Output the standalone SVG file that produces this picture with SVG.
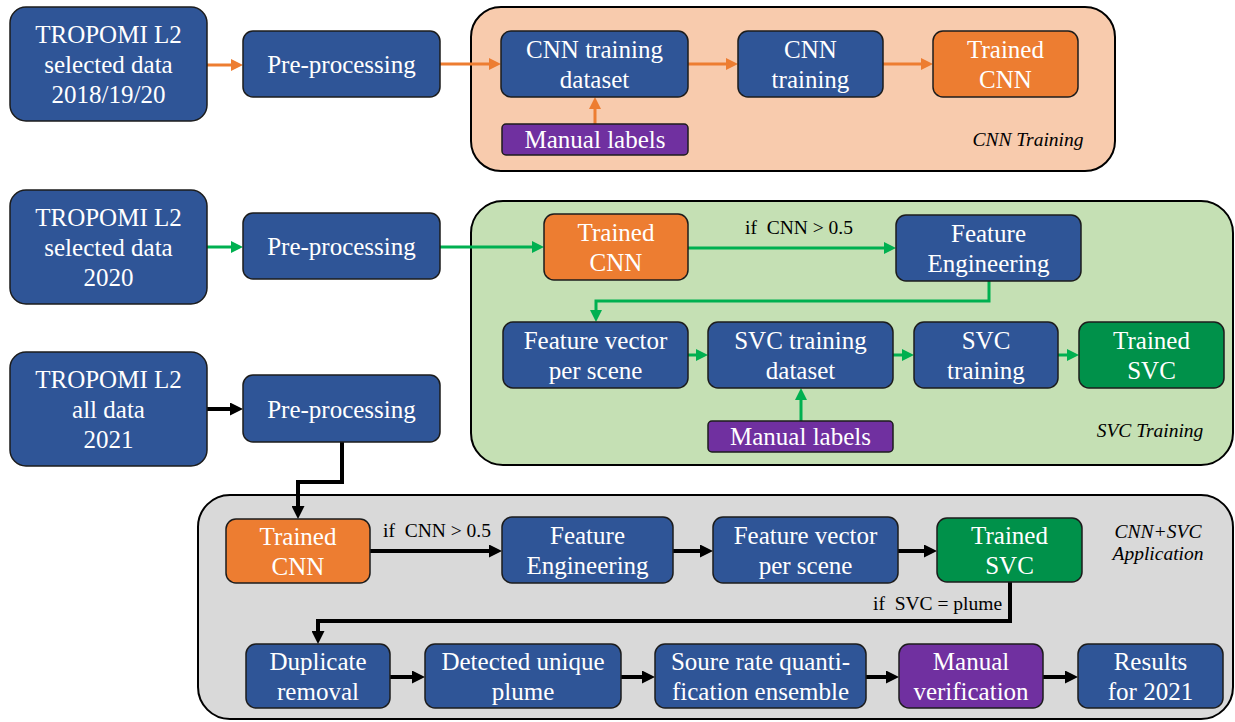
<svg xmlns="http://www.w3.org/2000/svg" width="1235" height="722" viewBox="0 0 1235 722">
<style>
.n{stroke:#1c1c1c;stroke-width:1.5}
.blue{fill:#2F5597}.org{fill:#ED7D31}.pur{fill:#7030A0}.grn{fill:#00914A}
text{font-family:'Liberation Serif','DejaVu Serif',serif}
.t{font-size:25px;fill:#fff;text-anchor:middle}
.lab{font-size:19.5px;fill:#000;white-space:pre}
.it{font-size:19.5px;font-style:italic;fill:#000;text-anchor:middle}
.c{fill:none;stroke-width:3}
.co{stroke:#ED7D31;marker-end:url(#ao)}
.cg{stroke:#00B050;marker-end:url(#ag)}
.cb{stroke:#000;stroke-width:4;marker-end:url(#ab)}
</style>
<defs>
<marker id="ao" markerUnits="userSpaceOnUse" markerWidth="12" markerHeight="12" refX="0" refY="6" orient="auto"><path d="M0,0 L12,6 L0,12 z" fill="#ED7D31"/></marker>
<marker id="ag" markerUnits="userSpaceOnUse" markerWidth="12" markerHeight="12" refX="0" refY="6" orient="auto"><path d="M0,0 L12,6 L0,12 z" fill="#00B050"/></marker>
<marker id="ab" markerUnits="userSpaceOnUse" markerWidth="13" markerHeight="13" refX="0" refY="6.5" orient="auto"><path d="M0,0 L13,6.5 L0,13 z" fill="#000"/></marker>
</defs>

<g id="containers">
<rect id="cnn-training" x="471" y="7" width="644" height="164" rx="30" fill="#F8CBAD" stroke="#000" stroke-width="2"/>
<text class="it" x="1028" y="146">CNN Training</text>
<rect id="svc-training" x="471" y="201" width="762" height="264" rx="32" fill="#C5E0B4" stroke="#000" stroke-width="2"/>
<text class="it" x="1150" y="437">SVC Training</text>
<rect id="application" x="198" y="495" width="1035" height="224" rx="32" fill="#D9D9D9" stroke="#000" stroke-width="2"/>
<text class="it" x="1158" y="538">CNN+SVC</text>
<text class="it" x="1158" y="560">Application</text>
</g>

<g id="connectors">
<path class="c co" d="M207,65 H231"/>
<path class="c co" d="M440,64 H489"/>
<path class="c co" d="M688,64 H726"/>
<path class="c co" d="M883,64 H921"/>
<path class="c co" d="M595,124 V109"/>
<path class="c cg" d="M207,247 H231"/>
<path class="c cg" d="M440,247 H532"/>
<path class="c cg" d="M688,248 H884"/>
<path class="c cg" d="M989,281 V301 H596 V310"/>
<path class="c cg" d="M688,355 H696"/>
<path class="c cg" d="M893,355 H902"/>
<path class="c cg" d="M1058,355 H1067"/>
<path class="c cg" d="M801,421 V400"/>
<path class="c cb" d="M207,409 H230"/>
<path class="c cb" d="M342,442 V482 H298 V506"/>
<path class="c cb" d="M370,551 H489"/>
<path class="c cb" d="M673,551 H700"/>
<path class="c cb" d="M898,551 H924"/>
<path class="c cb" d="M1010,582 V621 H318 V631"/>
<path class="c cb" d="M390,677 H412"/>
<path class="c cb" d="M621,677 H642"/>
<path class="c cb" d="M866,677 H886"/>
<path class="c cb" d="M1043,677 H1065"/>
<text class="lab" x="745" y="234">if  CNN &gt; 0.5</text>
<text class="lab" x="383" y="537">if  CNN &gt; 0.5</text>
<text class="lab" x="873" y="610">if  SVC = plume</text>
</g>

<g id="n-tropomi1"><rect class="n blue" x="10" y="7" width="197" height="114" rx="16"/>
<text class="t" x="108.5" y="43">TROPOMI L2</text><text class="t" x="108.5" y="73">selected data</text><text class="t" x="108.5" y="103">2018/19/20</text></g>
<g id="n-pre1"><rect class="n blue" x="243" y="31" width="197" height="66" rx="10"/>
<text class="t" x="341.5" y="73">Pre-processing</text></g>
<g id="n-cnn-dataset"><rect class="n blue" x="501" y="31" width="187" height="66" rx="10"/>
<text class="t" x="594.5" y="58">CNN training</text><text class="t" x="594.5" y="88">dataset</text></g>
<g id="n-cnn-train"><rect class="n blue" x="738" y="31" width="145" height="66" rx="10"/>
<text class="t" x="810.5" y="58">CNN</text><text class="t" x="810.5" y="88">training</text></g>
<g id="n-trained-cnn1"><rect class="n org" x="933" y="31" width="145" height="66" rx="10"/>
<text class="t" x="1005.5" y="58">Trained</text><text class="t" x="1005.5" y="88">CNN</text></g>
<g id="n-manual1"><rect class="n pur" x="502" y="124" width="186" height="31" rx="4"/>
<text class="t" x="595" y="148">Manual labels</text></g>

<g id="n-tropomi2"><rect class="n blue" x="10" y="190" width="197" height="114" rx="16"/>
<text class="t" x="108.5" y="226">TROPOMI L2</text><text class="t" x="108.5" y="256">selected data</text><text class="t" x="108.5" y="286">2020</text></g>
<g id="n-pre2"><rect class="n blue" x="243" y="213" width="197" height="66" rx="10"/>
<text class="t" x="341.5" y="255">Pre-processing</text></g>
<g id="n-trained-cnn2"><rect class="n org" x="544" y="214" width="144" height="66" rx="10"/>
<text class="t" x="616" y="241">Trained</text><text class="t" x="616" y="271">CNN</text></g>
<g id="n-fe1"><rect class="n blue" x="896" y="215" width="185" height="66" rx="10"/>
<text class="t" x="988.5" y="242">Feature</text><text class="t" x="988.5" y="272">Engineering</text></g>
<g id="n-fv1"><rect class="n blue" x="503" y="322" width="185" height="66" rx="10"/>
<text class="t" x="595.5" y="349">Feature vector</text><text class="t" x="595.5" y="379">per scene</text></g>
<g id="n-svc-dataset"><rect class="n blue" x="708" y="322" width="185" height="66" rx="10"/>
<text class="t" x="800.5" y="349">SVC training</text><text class="t" x="800.5" y="379">dataset</text></g>
<g id="n-svc-train"><rect class="n blue" x="914" y="322" width="144" height="66" rx="10"/>
<text class="t" x="986" y="349">SVC</text><text class="t" x="986" y="379">training</text></g>
<g id="n-trained-svc1"><rect class="n grn" x="1079" y="322" width="145" height="66" rx="10"/>
<text class="t" x="1151.5" y="349">Trained</text><text class="t" x="1151.5" y="379">SVC</text></g>
<g id="n-manual2"><rect class="n pur" x="708" y="421" width="185" height="31" rx="4"/>
<text class="t" x="800.5" y="445">Manual labels</text></g>

<g id="n-tropomi3"><rect class="n blue" x="10" y="352" width="197" height="114" rx="16"/>
<text class="t" x="108.5" y="388">TROPOMI L2</text><text class="t" x="108.5" y="418">all data</text><text class="t" x="108.5" y="448">2021</text></g>
<g id="n-pre3"><rect class="n blue" x="243" y="375" width="197" height="67" rx="10"/>
<text class="t" x="341.5" y="418">Pre-processing</text></g>
<g id="n-trained-cnn3"><rect class="n org" x="226" y="519" width="144" height="64" rx="10"/>
<text class="t" x="298" y="545">Trained</text><text class="t" x="298" y="575">CNN</text></g>
<g id="n-fe2"><rect class="n blue" x="502" y="517" width="171" height="66" rx="10"/>
<text class="t" x="587.5" y="544">Feature</text><text class="t" x="587.5" y="574">Engineering</text></g>
<g id="n-fv2"><rect class="n blue" x="713" y="517" width="185" height="66" rx="10"/>
<text class="t" x="805.5" y="544">Feature vector</text><text class="t" x="805.5" y="574">per scene</text></g>
<g id="n-trained-svc2"><rect class="n grn" x="937" y="518" width="145" height="64" rx="10"/>
<text class="t" x="1009.5" y="544">Trained</text><text class="t" x="1009.5" y="574">SVC</text></g>
<g id="n-dup"><rect class="n blue" x="246" y="644" width="144" height="64" rx="10"/>
<text class="t" x="318" y="670">Duplicate</text><text class="t" x="318" y="700">removal</text></g>
<g id="n-detected"><rect class="n blue" x="425" y="644" width="196" height="64" rx="10"/>
<text class="t" x="523" y="670">Detected unique</text><text class="t" x="523" y="700">plume</text></g>
<g id="n-source"><rect class="n blue" x="655" y="644" width="211" height="64" rx="10"/>
<text class="t" x="760.5" y="670">Soure rate quanti-</text><text class="t" x="760.5" y="700">fication ensemble</text></g>
<g id="n-verif"><rect class="n pur" x="899" y="644" width="144" height="64" rx="10"/>
<text class="t" x="971" y="670">Manual</text><text class="t" x="971" y="700">verification</text></g>
<g id="n-results"><rect class="n blue" x="1078" y="644" width="145" height="64" rx="10"/>
<text class="t" x="1150.5" y="670">Results</text><text class="t" x="1150.5" y="700">for 2021</text></g>
</svg>
